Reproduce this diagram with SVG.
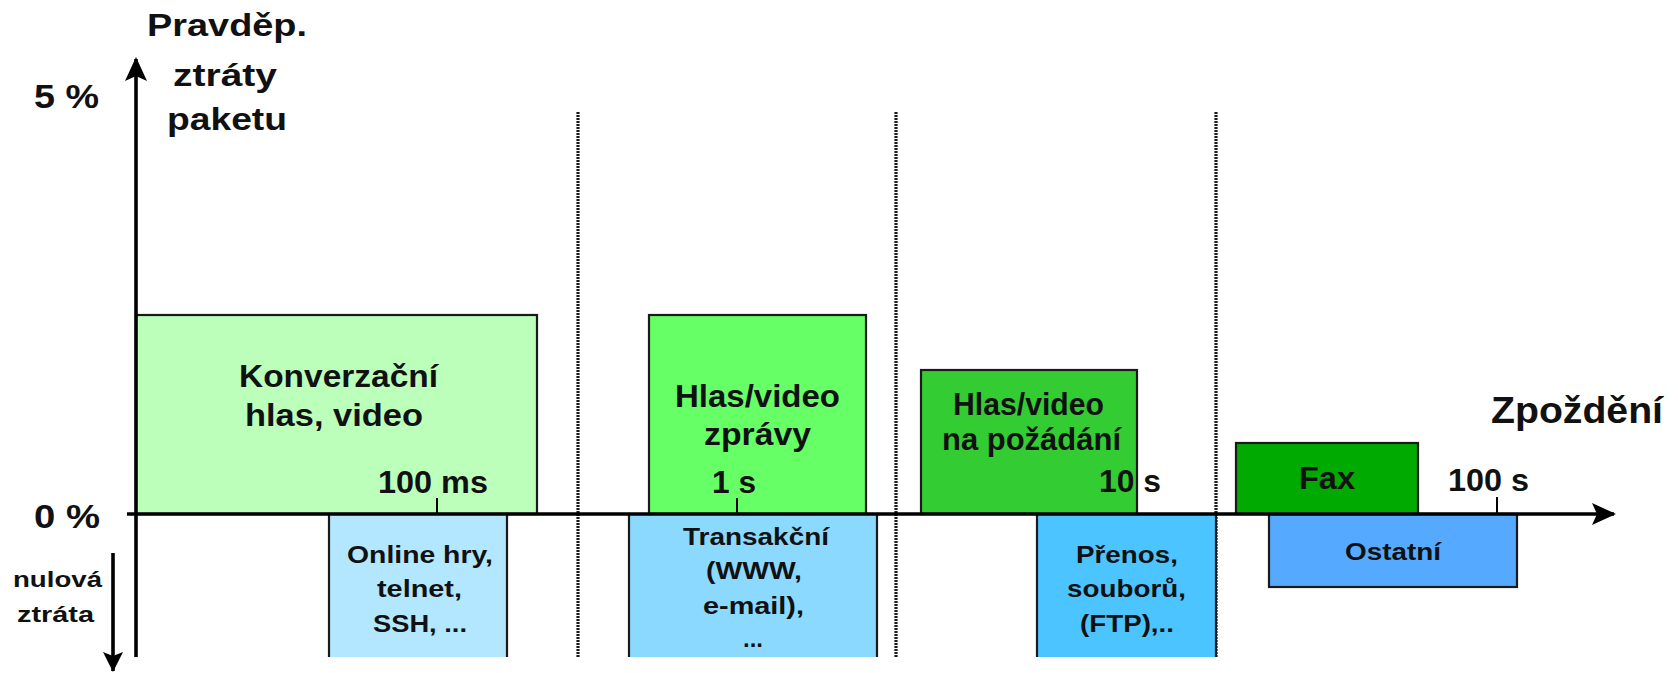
<svg xmlns="http://www.w3.org/2000/svg" width="1678" height="673" viewBox="0 0 1678 673">
<style>
text{font-family:"Liberation Sans",Arial,"Noto Sans",sans-serif;font-weight:bold;fill:#111;}
.box{stroke:#1a1a1a;stroke-width:2.2;}
.open{fill:none;stroke:#1a1a1a;stroke-width:2.2;}
.axis{stroke:#000;stroke-width:3.6;fill:none;}
.dot{stroke:#1a1a1a;stroke-width:3.2;stroke-dasharray:2 1;fill:none;}
.tick{stroke:#000;stroke-width:2;}
.t32{font-size:32px;}
.t31{font-size:31px;}
.t24{font-size:24px;}
.t22{font-size:22px;}
</style>
<defs>
<marker id="ah" viewBox="0 0 24 22" refX="22" refY="11" markerWidth="24" markerHeight="22" markerUnits="userSpaceOnUse" orient="auto">
<path d="M0,0 L24,11 L0,22 L5,11 Z" fill="#000"/>
</marker>
<marker id="ahs" viewBox="0 0 20 20" refX="19" refY="10" markerWidth="20" markerHeight="20" markerUnits="userSpaceOnUse" orient="auto">
<path d="M0,0 L20,10 L0,20 L4,10 Z" fill="#000"/>
</marker>
</defs>
<rect width="1678" height="673" fill="#fff"/>

<g id="separators">
<line class="dot" x1="578" y1="112" x2="578" y2="657"/>
<line class="dot" x1="896" y1="112" x2="896" y2="657"/>
<line class="dot" x1="1216" y1="112" x2="1216" y2="657"/>
</g>

<g id="konverzacni">
<rect class="box" x="136" y="315" width="401" height="199" fill="#bbffbb"/>
<text class="t32" x="239" y="387" textLength="199" lengthAdjust="spacingAndGlyphs">Konverzační</text>
<text class="t32" x="245" y="426" textLength="178" lengthAdjust="spacingAndGlyphs">hlas, video</text>
</g>

<g id="zpravy">
<rect class="box" x="649" y="315" width="217" height="199" fill="#66ff66"/>
<text class="t31" x="675" y="407" textLength="165" lengthAdjust="spacingAndGlyphs">Hlas/video</text>
<text class="t31" x="704" y="445" textLength="107" lengthAdjust="spacingAndGlyphs">zprávy</text>
</g>

<g id="napozadani">
<rect class="box" x="921" y="370" width="216" height="144" fill="#33cc33"/>
<text class="t31" x="953" y="415" textLength="151" lengthAdjust="spacingAndGlyphs">Hlas/video</text>
<text class="t31" x="942" y="450" textLength="179" lengthAdjust="spacingAndGlyphs">na požádání</text>
</g>

<g id="fax">
<rect class="box" x="1236" y="443" width="182" height="71" fill="#00aa00"/>
<text class="t31" x="1299" y="489" textLength="56" lengthAdjust="spacingAndGlyphs">Fax</text>
</g>

<g id="online">
<rect x="329" y="514" width="178" height="143" fill="#b3e6ff"/>
<path class="open" d="M329,657 V514 H507 V657"/>
<text class="t24" x="347" y="563" textLength="146" lengthAdjust="spacingAndGlyphs">Online hry,</text>
<text class="t24" x="377" y="597" textLength="85" lengthAdjust="spacingAndGlyphs">telnet,</text>
<text class="t24" x="373" y="632" textLength="94" lengthAdjust="spacingAndGlyphs">SSH, ...</text>
</g>

<g id="transakcni">
<rect x="629" y="514" width="248" height="143" fill="#8cd9ff"/>
<path class="open" d="M629,657 V514 H877 V657"/>
<text class="t24" x="683" y="545" textLength="146" lengthAdjust="spacingAndGlyphs">Transakční</text>
<text class="t24" x="706" y="579" textLength="96" lengthAdjust="spacingAndGlyphs">(WWW,</text>
<text class="t24" x="703" y="614" textLength="101" lengthAdjust="spacingAndGlyphs">e-mail),</text>
<text class="t24" x="743" y="647" textLength="20" lengthAdjust="spacingAndGlyphs">...</text>
</g>

<g id="prenos">
<rect x="1037" y="514" width="179" height="143" fill="#4cc4ff"/>
<path class="open" d="M1037,657 V514 H1216 V657"/>
<text class="t24" x="1076" y="563" textLength="102" lengthAdjust="spacingAndGlyphs">Přenos,</text>
<text class="t24" x="1067" y="597" textLength="119" lengthAdjust="spacingAndGlyphs">souborů,</text>
<text class="t24" x="1080" y="632" textLength="94" lengthAdjust="spacingAndGlyphs">(FTP),..</text>
</g>

<g id="ostatni">
<rect class="box" x="1269" y="514" width="248" height="73" fill="#55aaff"/>
<text class="t24" x="1345" y="560" textLength="96" lengthAdjust="spacingAndGlyphs">Ostatní</text>
</g>

<g id="connectors">
<line class="axis" x1="136" y1="657" x2="136" y2="59" marker-end="url(#ah)"/>
<line class="axis" x1="127" y1="514" x2="1614" y2="514" marker-end="url(#ah)"/>
<line class="axis" x1="113" y1="553" x2="113" y2="671" stroke-width="3" marker-end="url(#ahs)"/>
<line class="tick" x1="437" y1="498" x2="437" y2="514"/>
<line class="tick" x1="737" y1="498" x2="737" y2="514"/>
<line class="tick" x1="1497" y1="497" x2="1497" y2="514"/>
</g>

<g id="axis-labels">
<text class="t32" x="147" y="36" textLength="160" lengthAdjust="spacingAndGlyphs">Pravděp.</text>
<text class="t32" x="173" y="86" textLength="104" lengthAdjust="spacingAndGlyphs">ztráty</text>
<text class="t32" x="167" y="130" textLength="120" lengthAdjust="spacingAndGlyphs">paketu</text>
<text style="font-size:34px" x="34" y="108" textLength="65" lengthAdjust="spacingAndGlyphs">5 %</text>
<text style="font-size:34px" x="34" y="528" textLength="66" lengthAdjust="spacingAndGlyphs">0 %</text>
<text class="t22" x="13" y="587" textLength="89" lengthAdjust="spacingAndGlyphs">nulová</text>
<text class="t22" x="17" y="622" textLength="77" lengthAdjust="spacingAndGlyphs">ztráta</text>
<text style="font-size:36px" x="1491" y="423" textLength="172" lengthAdjust="spacingAndGlyphs">Zpoždění</text>
<text class="t32" x="378" y="493" textLength="110" lengthAdjust="spacingAndGlyphs">100 ms</text>
<text class="t32" x="712" y="493" textLength="44" lengthAdjust="spacingAndGlyphs">1 s</text>
<text class="t32" x="1099" y="492" textLength="62" lengthAdjust="spacingAndGlyphs">10 s</text>
<text class="t32" x="1448" y="491" textLength="81" lengthAdjust="spacingAndGlyphs">100 s</text>
</g>
</svg>
